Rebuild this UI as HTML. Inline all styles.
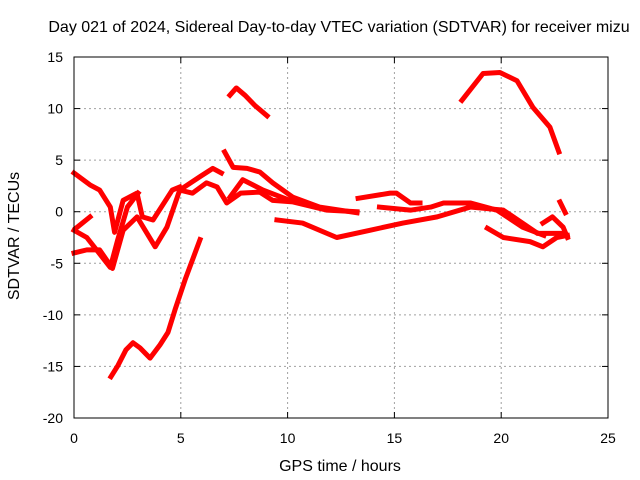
<!DOCTYPE html>
<html><head><meta charset="utf-8"><style>
body{margin:0;background:#fff;}
svg{display:block;font-family:"Liberation Sans",sans-serif;}
</style></head><body>
<svg id="chart" width="640" height="480">
<text x="339" y="32" text-anchor="middle" font-size="16">Day 021 of 2024, Sidereal Day-to-day VTEC variation (SDTVAR) for receiver mizu</text>
<text x="340" y="471" text-anchor="middle" font-size="16">GPS time / hours</text>
<text transform="translate(19,236) rotate(-90)" text-anchor="middle" font-size="16">SDTVAR / TECUs</text>
<g id="grid"></g><g id="ticks"></g><g id="series"></g>
<rect x="74" y="57" width="534" height="361" fill="none" stroke="#000" stroke-width="1"/>
</svg>
<script>
const xTicks=[0,5,10,15,20,25];
const yTicks=[15,10,5,0,-5,-10,-15,-20];
const s1=[[1.73,-16],[2.06,-14.9],[2.43,-13.4],[2.76,-12.7],[3.09,-13.2],[3.56,-14.2],[4.03,-12.9],[4.4,-11.7],[4.73,-9.5],[5.2,-6.6],[5.9,-2.7]];
const s2=[[7.3,11.3],[7.6,12],[8.0,11.3],[8.47,10.3],[9.04,9.3]];
const s3=[[18.16,10.8],[19.15,13.4],[19.94,13.5],[20.74,12.7],[21.49,10.1],[22.28,8.2],[22.7,5.8]];
const sA=[[0,3.75],[0.75,2.6],[1.2,2.1],[1.7,0.45],[1.9,-2],[2.3,1.1],[2.95,1.8],[3.2,-0.5],[3.7,-0.8],[4.6,2.1],[4.95,2.4]];
const sB=[[0,-1.8],[0.6,-2.5],[1.7,-5.4],[2.05,-2.7],[2.5,0.45],[3.0,1.8]];
const sC=[[0,-4],[0.6,-3.7],[1.2,-3.7],[1.8,-5.5],[2.3,-1.8],[2.95,-0.5],[3.8,-3.4],[4.35,-1.5],[4.95,2.1],[5.9,3.4],[6.5,4.2],[6.9,3.75]];
const sD=[[0.15,-1.5],[0.75,-0.5]];
const sE=[[4.95,2.1],[5.55,1.8],[6.2,2.8],[6.7,2.4],[7.15,0.85],[7.8,1.8],[8.7,1.9],[9.3,1.1],[10.25,0.95],[11.85,0.15],[13.25,0]];
const sF=[[7.05,5.8],[7.45,4.3],[8.1,4.2],[8.7,3.85],[9.3,2.8],[10.25,1.4],[11.5,0.45],[13.25,-0.1]];
const sG=[[7.3,1.4],[7.9,3.1],[8.85,2.1],[10.1,1.1]];
const sH=[[9.5,-0.8],[10.7,-1.1],[12.3,-2.5],[13.85,-1.8],[15.4,-1.1],[17.0,-0.5],[18.55,0.45],[20.1,0.15],[21.7,-2.1],[22.9,-2.1]];
const sI=[[13.3,1.3],[14.8,1.8],[15.1,1.8],[15.75,0.85],[16.2,0.85]];
const sJ=[[14.3,0.45],[15.75,0.15],[16.7,0.45],[17.3,0.85],[18.55,0.85],[19.8,0.15],[21.0,-1.5],[22.0,-2.3]];
const sK=[[19.35,-1.6],[20.1,-2.5],[21.35,-2.9],[21.95,-3.4],[22.6,-2.5],[23.1,-2.3]];
const sL=[[21.95,-1.1],[22.4,-0.5],[22.9,-1.5],[23.1,-2.5]];
const sM=[[22.75,0.95],[23.0,-0.1]];
const allSeries=[s1,s2,s3,sA,sB,sC,sD,sE,sF,sG,sH,sI,sJ,sK,sL,sM];
const NS="http://www.w3.org/2000/svg";
const L=74,R=608,T=57,B=418;
const xs=h=>L+(h-0)/25*(R-L);
const ys=v=>T+(15-v)/35*(B-T);
function mk(tag,attrs,parent){const e=document.createElementNS(NS,tag);for(const k in attrs)e.setAttribute(k,attrs[k]);parent.appendChild(e);return e;}
const grid=document.getElementById('grid'),ticks=document.getElementById('ticks'),ser=document.getElementById('series');
xTicks.forEach(t=>{const x=xs(t);
 if(t>0&&t<25){const g=mk('line',{x1:x,x2:x,y1:T,y2:B,stroke:'#a0a0a0','stroke-dasharray':'2,3'},grid);
 
 }
 mk('line',{x1:x,x2:x,y1:B,y2:B-6,stroke:'#000'},ticks);mk('line',{x1:x,x2:x,y1:T,y2:T+6,stroke:'#000'},ticks);
 const tx=mk('text',{x:x,y:443,'text-anchor':'middle','font-size':'14'},ticks);tx.textContent=t;
 
 
});
yTicks.forEach(t=>{const y=ys(t);
 if(t<15&&t>-20){const g=mk('line',{x1:L,x2:R,y1:y,y2:y,stroke:'#a0a0a0','stroke-dasharray':'2,3'},grid);
 
 }
 mk('line',{x1:L,x2:L+6,y1:y,y2:y,stroke:'#000'},ticks);mk('line',{x1:R,x2:R-6,y1:y,y2:y,stroke:'#000'},ticks);
 const tx=mk('text',{x:63,y:y+5,'text-anchor':'end','font-size':'14'},ticks);tx.textContent=t;
 
 
});
allSeries.forEach((s,i)=>{
 const p=mk('polyline',{points:s.map(d=>xs(d[0])+','+ys(d[1])).join(' '),fill:'none',stroke:'#ff0000','stroke-width':'5','stroke-linejoin':'round','stroke-linecap':'square'},ser);
 
 
});
</script>
</body></html>
